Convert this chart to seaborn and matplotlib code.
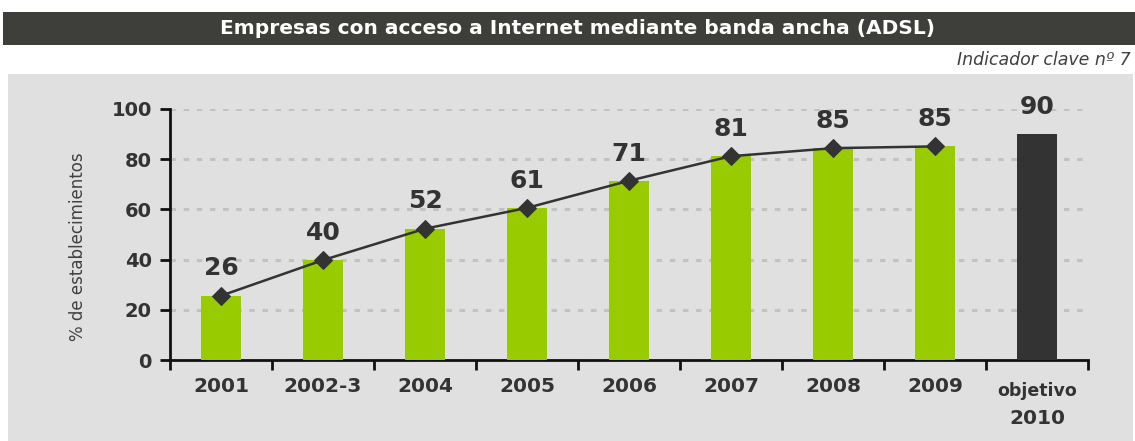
import matplotlib
matplotlib.use("Agg")
import matplotlib.pyplot as plt
from matplotlib.patches import Rectangle
import matplotlib.transforms as mtransforms
import seaborn as sns
import pandas as pd

categories = ["2001", "2002-3", "2004", "2005", "2006", "2007", "2008", "2009", "2010"]
values = [25.6, 39.8, 52.3, 60.6, 71.4, 81.2, 84.4, 85.1, 90.0]
labels = ["26", "40", "52", "61", "71", "81", "85", "85", "90"]
line_values = [25.6, 39.8, 52.3, 60.6, 71.4, 81.2, 84.4, 85.1]
tick_labels = ["2001", "2002-3", "2004", "2005", "2006", "2007", "2008", "2009", ""]
target_label_top = "objetivo"
target_label_bottom = "2010"
bar_colors = ["#99cc00"] * 8 + ["#333333"]

sns.set_style("white")
plt.rcParams["font.family"] = ["DejaVu Sans"]

W, H = 1135, 441
fig = plt.figure(figsize=(W / 100, H / 100), dpi=100)
fig.patch.set_facecolor("white")

# title bar and panel
fig.patches.append(Rectangle((3 / W, 1 - 45 / H), 1 - 3 / W, 33 / H, transform=fig.transFigure,
                             facecolor="#3e3f3b", edgecolor="none", zorder=-2))
fig.patches.append(Rectangle((8 / W, 0), (1133 - 8) / W, 1 - 74 / H, transform=fig.transFigure,
                             facecolor="#e0e0e0", edgecolor="none", zorder=-2))
fig.text(577 / W, 1 - 29 / H, "Empresas con acceso a Internet mediante banda ancha (ADSL)",
         color="white", fontsize=14.5, fontweight="bold", ha="center", va="center")
fig.text(1131 / W, 1 - 60 / H, "Indicador clave nº 7", color="#404040", fontsize=12.5,
         style="italic", ha="right", va="center")

ax = fig.add_axes([170 / W, 81 / H, (1088 - 170) / W, (360 - 109) / H])
ax.set_zorder(1)
ax.set_facecolor("none")

df = pd.DataFrame({"cat": categories, "val": values})
sns.barplot(data=df, x="cat", y="val", hue="cat", palette=bar_colors, legend=False,
            width=0.4, saturation=1, linewidth=0, edgecolor="none", ax=ax, zorder=3)
sns.lineplot(x=list(range(len(line_values))), y=line_values, ax=ax, color="#333333",
             linewidth=1.8, marker="D", markersize=9, markeredgecolor="#333333", zorder=4)

for i, (v, lab) in enumerate(zip(values, labels)):
    ax.annotate(lab, (i, v), xytext=(0, 11), textcoords="offset points", ha="center",
                va="bottom", fontsize=18, fontweight="bold", color="#333333",
                annotation_clip=False, zorder=5)

ax.set_ylim(0, 100)
ax.set_xlim(-0.5, len(categories) - 0.5)
ax.set_yticks([0, 20, 40, 60, 80, 100])
ax.set_xticks(range(len(categories)))
ax.set_xticklabels(tick_labels)
ax.set_xticks([i - 0.5 for i in range(len(categories) + 1)], minor=True)
ax.tick_params(axis="x", which="major", bottom=True, length=0, pad=12, labelsize=14.5,
               labelcolor="#333333")
ax.tick_params(axis="x", which="minor", bottom=True, length=7, width=2, color="#111111",
               direction="out")
ax.tick_params(axis="y", which="major", left=True, length=7, width=2, color="#111111",
               direction="out", pad=6, labelsize=14, labelcolor="#333333")
for t in ax.get_xticklabels() + ax.get_yticklabels():
    t.set_fontweight("bold")

ax.yaxis.grid(True, linestyle=(0, (1.8, 2.5)), color="#c2c2c2", linewidth=2.2)
ax.set_axisbelow(True)
for s in ["top", "right"]:
    ax.spines[s].set_visible(False)
for s in ["left", "bottom"]:
    ax.spines[s].set_color("#111111")
    ax.spines[s].set_linewidth(2)

ax.set_xlabel("")
ax.set_ylabel("% de establecimientos", fontsize=12, color="#404040")
ax.yaxis.set_label_coords(-0.09, 0.45)

blend = mtransforms.blended_transform_factory(ax.transData, ax.transAxes)
ax.text(8, 0, target_label_top,
        transform=blend + mtransforms.ScaledTranslation(0, -31 / 100, fig.dpi_scale_trans),
        ha="center", va="center", fontsize=12.5, fontweight="bold", color="#333333")
ax.text(8, 0, target_label_bottom,
        transform=blend + mtransforms.ScaledTranslation(0, -59 / 100, fig.dpi_scale_trans),
        ha="center", va="center", fontsize=14.5, fontweight="bold", color="#333333")

fig.savefig("out.png", dpi=100)
